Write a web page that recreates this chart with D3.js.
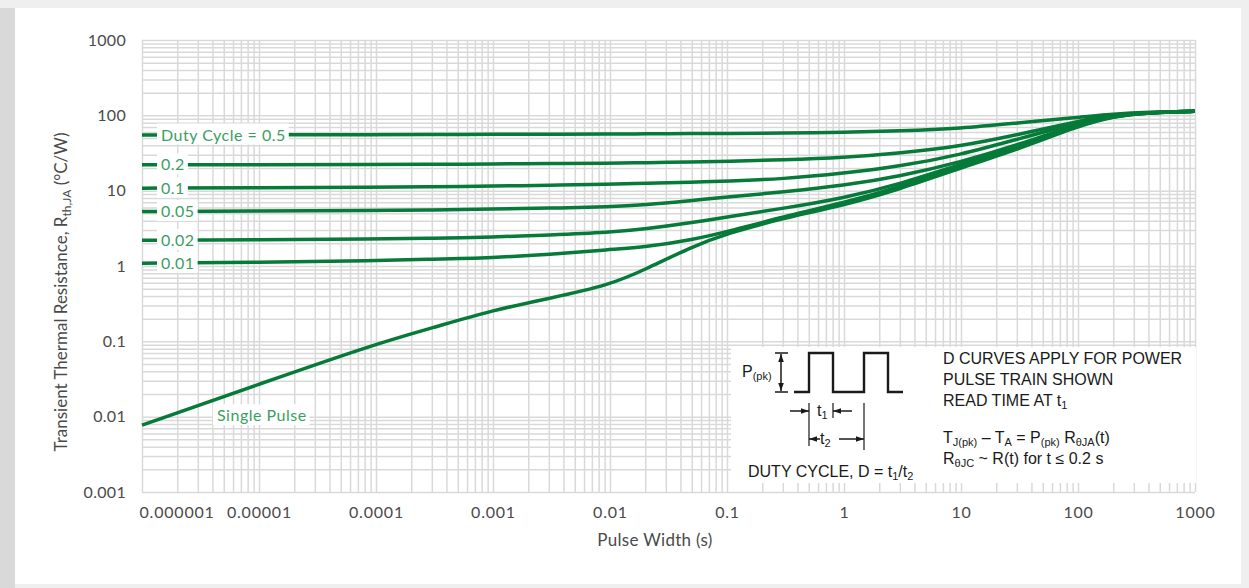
<!DOCTYPE html>
<html>
<head>
<meta charset="utf-8">
<script src="https://cdn.jsdelivr.net/npm/d3@7"></script>
<style>
  html, body { margin: 0; padding: 0; background: #efefef; }
  svg { display: block; }
</style>
</head>
<body>
<div id="chart"></div>
<script>
// pulse width (s) sample points shared by all curves
const pulseTimes = [1e-6, 1e-5, 1e-4, 3e-4, 1e-3, 3e-3, 0.01, 0.02, 0.05, 0.1, 0.3, 1, 3, 10, 30, 100, 200, 400, 1000];

// transient thermal resistance (°C/W)
const duty50 = [55, 55, 55.5, 55.7, 56, 56.2, 56.5, 56.8, 57.2, 57.5, 58.2, 59.5, 62, 67, 79, 94, 104, 110, 113];
const duty20 = [22, 22, 22.2, 22.4, 22.6, 22.9, 23.2, 23.5, 24, 24.5, 25.6, 27.5, 31.5, 39, 55, 84, 101, 109, 113];
const duty10 = [10.8, 10.9, 11.1, 11.25, 11.5, 11.8, 12.2, 12.5, 13, 13.4, 14.3, 17, 21, 30, 48, 80, 100, 109, 113];
const duty05 = [5.3, 5.35, 5.45, 5.55, 5.7, 5.85, 6.1, 6.5, 7.4, 8.2, 9.6, 11.7, 15.5, 24, 40, 77, 99, 109, 113];
const duty02 = [2.2, 2.22, 2.28, 2.33, 2.42, 2.58, 2.8, 3.1, 3.75, 4.5, 5.8, 8.0, 12.2, 22.5, 38, 75, 98, 109, 113];
const duty01 = [1.09, 1.12, 1.18, 1.23, 1.29, 1.42, 1.66, 1.78, 2.22, 2.85, 4.5, 6.9, 11.2, 21, 36, 74, 98, 109, 113];
const singlePulse = [0.0077, 0.027, 0.093, 0.15, 0.26, 0.37, 0.56, 0.9, 1.8, 2.7, 4.3, 6.4, 10.5, 20, 35, 72, 97, 109, 113];

const seriesValues = [duty50, duty20, duty10, duty05, duty02, duty01, singlePulse];
const seriesLabels = ["Duty Cycle = 0.5", "0.2", "0.1", "0.05", "0.02", "0.01", "Single Pulse"];

const xTicks = [1e-6, 1e-5, 1e-4, 1e-3, 1e-2, 0.1, 1, 10, 100, 1000];
const xTickLabels = ["0.000001", "0.00001", "0.0001", "0.001", "0.01", "0.1", "1", "10", "100", "1000"];
const yTicks = [0.001, 0.01, 0.1, 1, 10, 100, 1000];
const yTickLabels = ["0.001", "0.01", "0.1", "1", "10", "100", "1000"];

const W = 1249, H = 588;
const pLeft = 142, pRight = 1195, pTop = 40, pBottom = 492;
const curveColor = "#067a38", labelColor = "#3c9e63";
const font = "Lato, 'Open Sans', sans-serif";

const svg = d3.select("#chart").append("svg").attr("width", W).attr("height", H);

// card background
svg.append("rect").attr("x", 0).attr("y", 8).attr("width", 15).attr("height", H - 8).attr("fill", "#d9d9d9");
svg.append("rect").attr("x", 15).attr("y", 8).attr("width", 1226).attr("height", 576).attr("fill", "#fff");

const x = d3.scaleLog().domain([1e-6, 1000]).range([pLeft, pRight]);
const y = d3.scaleLog().domain([0.001, 1000]).range([pBottom, pTop]);

// log grid lines (1..9 per decade)
const minorX = [];
for (let e = -6; e < 3; e++) for (let k = 1; k <= 9; k++) minorX.push(k * Math.pow(10, e));
minorX.push(1000);
const minorY = [];
for (let e = -3; e < 3; e++) for (let k = 1; k <= 9; k++) minorY.push(k * Math.pow(10, e));
minorY.push(1000);

const gx = svg.append("g")
  .attr("transform", `translate(0,${pBottom})`)
  .call(d3.axisBottom(x).tickValues(minorX).tickSize(-(pBottom - pTop)).tickFormat(""));
const gy = svg.append("g")
  .attr("transform", `translate(${pLeft},0)`)
  .call(d3.axisLeft(y).tickValues(minorY).tickSize(-(pRight - pLeft)).tickFormat(""));
[gx, gy].forEach(g => {
  g.select(".domain").remove();
  g.selectAll("line").attr("stroke", "#d9d9d9").attr("stroke-width", 1.5);
});

// tick labels
const lx = svg.append("g")
  .attr("transform", `translate(0,${pBottom + 12})`)
  .call(d3.axisBottom(x).tickValues(xTicks).tickSize(0).tickFormat((d, i) => xTickLabels[i]));
lx.select(".domain").remove();
lx.selectAll("text").attr("font-family", font).attr("font-size", 16).attr("fill", "#4a4a4a")
  .attr("letter-spacing", 0.8)
  .attr("text-anchor", (d, i) => i === 0 ? "start" : "middle")
  .attr("dx", (d, i) => i === 0 ? -3 : 0);

const ly = svg.append("g")
  .attr("transform", `translate(${pLeft - 13},0)`)
  .call(d3.axisLeft(y).tickValues(yTicks).tickSize(0).tickFormat((d, i) => yTickLabels[i]));
ly.select(".domain").remove();
ly.selectAll("text").attr("font-family", font).attr("font-size", 16).attr("fill", "#4a4a4a")
  .attr("letter-spacing", 0.3);

// axis titles
svg.append("text").attr("x", 655).attr("y", 546).attr("text-anchor", "middle")
  .attr("font-family", font).attr("font-size", 17).attr("fill", "#4a4a4a").attr("letter-spacing", 0.3)
  .text("Pulse Width (s)");

const yt = svg.append("text").attr("transform", "translate(67,292) rotate(-90)")
  .attr("text-anchor", "middle").attr("font-family", font).attr("font-size", 17).attr("fill", "#4a4a4a");
yt.append("tspan").text("Transient Thermal Resistance, R");
yt.append("tspan").attr("font-size", 12).attr("dy", 4).text("th,JA");
yt.append("tspan").attr("dy", -4).text(" (°C/W)");

// curves
const line = d3.line()
  .x(d => x(d[0]))
  .y(d => y(d[1]))
  .curve(d3.curveBasis);

svg.append("g").selectAll("path")
  .data(seriesValues)
  .join("path")
  .attr("d", vals => line(pulseTimes.map((t, i) => [t, vals[i]])))
  .attr("fill", "none")
  .attr("stroke", curveColor)
  .attr("stroke-width", 3.5)
  .attr("stroke-linejoin", "round");

// curve labels on white patches
const labelX = [161, 161, 161, 161, 161, 161, 217];
const lab = svg.append("g").selectAll("g")
  .data(seriesValues)
  .join("g")
  .attr("transform", (vals, i) => {
    const ly0 = i === 6 ? y(0.0103) : y(vals[0]);
    return `translate(${labelX[i]},${ly0})`;
  });
lab.append("text")
  .attr("font-family", font).attr("font-size", 16).attr("fill", labelColor)
  .attr("letter-spacing", 0.5)
  .attr("dy", "0.35em")
  .text((d, i) => seriesLabels[i]);
lab.each(function() {
  const g = d3.select(this);
  const b = g.select("text").node().getBBox();
  g.insert("rect", "text").attr("x", b.x - 4).attr("y", b.y - 1)
    .attr("width", b.width + 7).attr("height", b.height + 2).attr("fill", "#fff");
});

// inset diagram box
const ins = svg.append("g").attr("transform", "translate(731,347)");
ins.append("rect").attr("width", 465).attr("height", 136).attr("fill", "#fff");

const ink = "#1a1a1a";
const insFont = "'Liberation Sans', Arial, sans-serif";
svg.append("defs").append("marker")
  .attr("id", "ah").attr("viewBox", "0 0 10 10").attr("refX", 10).attr("refY", 5)
  .attr("markerWidth", 8).attr("markerHeight", 8).attr("orient", "auto-start-reverse")
  .attr("markerUnits", "userSpaceOnUse")
  .append("path").attr("d", "M0,1.5L10,5L0,8.5Z").attr("fill", ink);

ins.append("path").attr("d", "M63,45H78V6H102V45H133V6H157V45H172")
  .attr("fill", "none").attr("stroke", ink).attr("stroke-width", 2.4);
ins.append("path").attr("d", "M44,6H57M44,45H57").attr("stroke", ink).attr("stroke-width", 1.5);
ins.append("line").attr("x1", 50).attr("y1", 7).attr("x2", 50).attr("y2", 44)
  .attr("stroke", ink).attr("stroke-width", 1.5)
  .attr("marker-start", "url(#ah)").attr("marker-end", "url(#ah)");
ins.append("path").attr("d", "M78,56V99M102,56V71M133,56V103").attr("stroke", ink).attr("stroke-width", 1.2);
ins.append("line").attr("x1", 59).attr("y1", 64).attr("x2", 78).attr("y2", 64)
  .attr("stroke", ink).attr("stroke-width", 1.5).attr("marker-end", "url(#ah)");
ins.append("line").attr("x1", 121).attr("y1", 64).attr("x2", 102).attr("y2", 64)
  .attr("stroke", ink).attr("stroke-width", 1.5).attr("marker-end", "url(#ah)");
ins.append("line").attr("x1", 89).attr("y1", 92).attr("x2", 78).attr("y2", 92)
  .attr("stroke", ink).attr("stroke-width", 1.5).attr("marker-end", "url(#ah)");
ins.append("line").attr("x1", 108).attr("y1", 92).attr("x2", 133).attr("y2", 92)
  .attr("stroke", ink).attr("stroke-width", 1.5).attr("marker-end", "url(#ah)");

function insText(px, py, parts) {
  const t = ins.append("text").attr("x", px).attr("y", py)
    .attr("font-family", insFont).attr("font-size", 16).attr("fill", ink);
  let shift = 0;
  parts.forEach(p => {
    const s = p[1] || 0;
    const sp = t.append("tspan").text(p[0]).attr("dy", s - shift);
    if (s) sp.attr("font-size", 11);
    shift = s;
  });
  return t;
}
insText(11, 30, [["P"], ["(pk)", 3]]);
insText(86, 69, [["t"], ["1", 3]]);
insText(89, 97, [["t"], ["2", 3]]);
insText(17, 130, [["DUTY CYCLE, D = t"], ["1", 3], ["/t"], ["2", 3]]);
insText(212, 17, [["D CURVES APPLY FOR POWER"]]);
insText(212, 38, [["PULSE TRAIN SHOWN"]]);
insText(212, 59, [["READ TIME AT t"], ["1", 3]]);
insText(212, 96, [["T"], ["J(pk)", 3], [" \u2013 T"], ["A", 3], [" = P"], ["(pk)", 3], [" R"], ["\u03B8JA", 3], ["(t)"]]);
insText(212, 117, [["R"], ["\u03B8JC", 3], [" ~ R(t) for t \u2264 0.2 s"]]);
</script>
</body>
</html>
